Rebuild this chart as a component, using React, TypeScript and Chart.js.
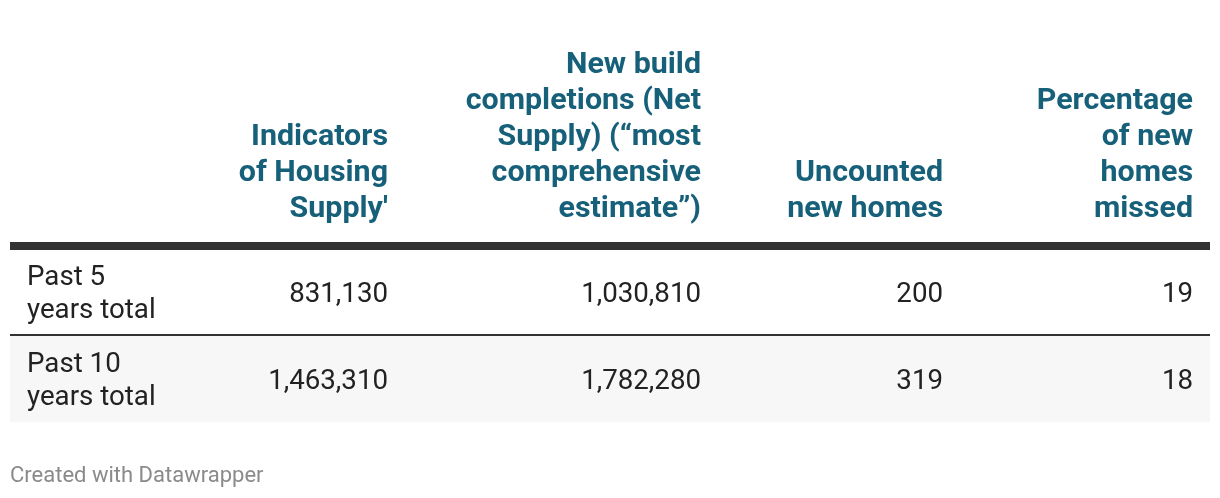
import React, { useEffect, useRef } from "react";
import { Chart, registerables } from "chart.js";

Chart.register(...registerables);

// ---- Data ----
const columnHeaders: string[][] = [
  ["Indicators", "of Housing", "Supply'"],
  ["New build", "completions (Net", "Supply) (“most", "comprehensive", "estimate”)"],
  ["Uncounted", "new homes"],
  ["Percentage", "of new", "homes", "missed"],
];
const rowLabels: string[][] = [
  ["Past 5", "years total"],
  ["Past 10", "years total"],
];
const indicatorsOfHousingSupply = [831130, 1463310];
const newBuildCompletions = [1030810, 1782280];
const uncountedNewHomes = [200, 319];
const percentageMissed = [19, 18];
const footerText = "Created with Datawrapper";

// ---- Layout (values on the chart's linear scales) ----
const LAYOUT = {
  tableLeft: 10,
  tableRight: 1210,
  labelX: 27,
  colRight: [388, 701, 943, 1193],
  headerBaseline: 217,
  headerLineHeight: 36,
  ruleTop: 242,
  ruleBottom: 250,
  rowTops: [250, 336],
  rowBottoms: [334, 422],
  sepTop: 334,
  sepBottom: 336,
  labelLineHeight: 33,
  footerBaseline: 482,
};

const HEADER_FONT = "bold 30.4px Roboto";
const BODY_SIZE = 27.7;
const BODY_FONT = `${BODY_SIZE}px Roboto`;
const FOOTER_FONT = "22px Roboto";
const HEADER_COLOR = "#17607a";
const BODY_COLOR = "#222222";
const RULE_COLOR = "#333333";
const ALT_ROW = "#f7f7f7";
const FOOTER_COLOR = "#8a8a8a";

const fmt = (v: number) => v.toLocaleString("en-US");

const tablePlugin = {
  id: "tablePlugin",
  afterDraw(chart: any) {
    const ctx: CanvasRenderingContext2D = chart.ctx;
    const xs = chart.scales.x;
    const ys = chart.scales.y;
    const X = (v: number) => xs.getPixelForValue(v);
    const Y = (v: number) => ys.getPixelForValue(v);
    ctx.save();

    // Header
    ctx.font = HEADER_FONT;
    ctx.fillStyle = HEADER_COLOR;
    ctx.textAlign = "right";
    ctx.textBaseline = "alphabetic";
    columnHeaders.forEach((lines, ci) => {
      const n = lines.length;
      lines.forEach((line, li) => {
        const baseline = LAYOUT.headerBaseline - (n - 1 - li) * LAYOUT.headerLineHeight;
        ctx.fillText(line, X(LAYOUT.colRight[ci]), Y(baseline));
      });
    });

    // Thick rule
    ctx.fillStyle = RULE_COLOR;
    ctx.fillRect(
      X(LAYOUT.tableLeft),
      Y(LAYOUT.ruleTop),
      X(LAYOUT.tableRight) - X(LAYOUT.tableLeft),
      Y(LAYOUT.ruleBottom) - Y(LAYOUT.ruleTop)
    );

    // Rows
    const columns = [indicatorsOfHousingSupply, newBuildCompletions, uncountedNewHomes, percentageMissed];
    const capHalf = (BODY_SIZE * 0.711) / 2;
    rowLabels.forEach((label, ri) => {
      const top = LAYOUT.rowTops[ri];
      const bottom = LAYOUT.rowBottoms[ri];
      if (ri % 2 === 1) {
        ctx.fillStyle = ALT_ROW;
        ctx.fillRect(X(LAYOUT.tableLeft), Y(top), X(LAYOUT.tableRight) - X(LAYOUT.tableLeft), Y(bottom) - Y(top));
      }
      const center = (top + bottom) / 2;
      ctx.fillStyle = BODY_COLOR;
      ctx.font = BODY_FONT;
      ctx.textAlign = "left";
      const n = label.length;
      label.forEach((line, li) => {
        const offset = (li - (n - 1) / 2) * LAYOUT.labelLineHeight;
        ctx.fillText(line, X(LAYOUT.labelX), Y(center + offset + capHalf));
      });
      ctx.textAlign = "right";
      columns.forEach((col, ci) => {
        ctx.fillText(fmt(col[ri]), X(LAYOUT.colRight[ci]), Y(center + capHalf));
      });
    });

    // Separator between rows
    ctx.fillStyle = RULE_COLOR;
    ctx.fillRect(
      X(LAYOUT.tableLeft),
      Y(LAYOUT.sepTop),
      X(LAYOUT.tableRight) - X(LAYOUT.tableLeft),
      Y(LAYOUT.sepBottom) - Y(LAYOUT.sepTop)
    );

    // Footer
    ctx.font = FOOTER_FONT;
    ctx.fillStyle = FOOTER_COLOR;
    ctx.textAlign = "left";
    ctx.fillText(footerText, X(LAYOUT.tableLeft), Y(LAYOUT.footerBaseline));

    ctx.restore();
  },
};

export default function App() {
  const canvasRef = useRef<HTMLCanvasElement | null>(null);

  useEffect(() => {
    if (!canvasRef.current) return;
    const chart = new Chart(canvasRef.current, {
      type: "scatter",
      data: { datasets: [] },
      options: {
        responsive: false,
        animation: false,
        devicePixelRatio: 1,
        layout: { padding: 0 },
        scales: {
          x: { type: "linear", min: 0, max: 1220, display: false },
          y: { type: "linear", min: 0, max: 498, reverse: true, display: false },
        },
        plugins: { legend: { display: false }, tooltip: { enabled: false } },
      },
      plugins: [tablePlugin],
    } as any);
    return () => chart.destroy();
  }, []);

  return (
    <div style={{ position: "absolute", left: 0, top: 0, width: 1220, height: 498, background: "#ffffff" }}>
      <canvas ref={canvasRef} width={1220} height={498} style={{ display: "block" }} />
    </div>
  );
}
